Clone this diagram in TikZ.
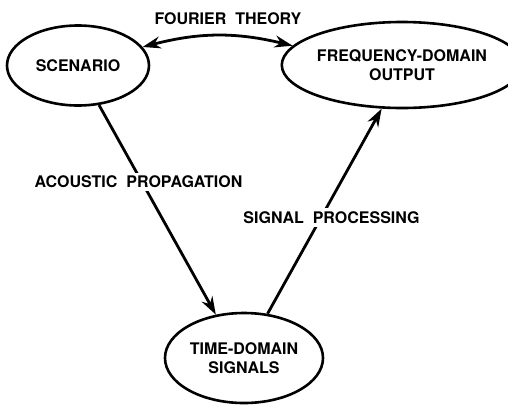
\documentclass[tikz,border=0pt]{standalone}
\usepackage{fontspec}
\setmainfont{TeX Gyre Heros}
\usepackage{tikz}
\usetikzlibrary{shapes.geometric,arrows.meta}
\tikzstyle{stage}=[draw=black, ellipse, line width=2.6pt, inner sep=0pt, align=center, font=\fontsize{16}{19}\selectfont\bfseries]
\tikzstyle{flow}=[draw=black, line width=2.8pt]
\tikzstyle{flowtext}=[fill=white, inner sep=3pt, font=\fontsize{16}{19}\selectfont\bfseries]

\begin{document}
\begin{tikzpicture}[x=1pt,y=1pt,>={Stealth[length=18pt,width=12pt]}]
\useasboundingbox (0,0) rectangle (508,-405);
\node[stage, minimum width=142, minimum height=80] (scenario) at ( 78 , -65.5 ){SCENARIO};
\node[stage, minimum width=194, minimum height=86] (freq) at ( 402 , -65 ){FREQUENCY-DOMAIN\\OUTPUT};
\node[stage, minimum width=158, minimum height=90] (time) at ( 244 , -358 ){TIME-DOMAIN\\SIGNALS};
\draw[flow, <->] (scenario.16) to[bend left=14] (freq.170);
\draw[flow, ->] (scenario.-62)--(time.123);
\draw[flow, ->] (time.62)--(freq.-115);
\node[flowtext] (fourier) at ( 228 , -19 ){FOURIER\ \ THEORY};
\node[flowtext] (acoustic) at ( 138.5 , -182 ){ACOUSTIC\ \ PROPAGATION};
\node[flowtext] (processing) at ( 331.5 , -217.5 ){SIGNAL\ \ PROCESSING};
\end{tikzpicture}
\end{document}
